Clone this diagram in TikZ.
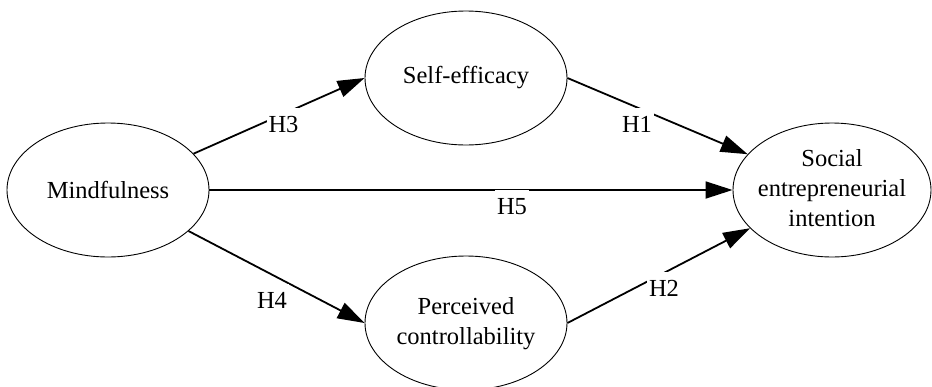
\documentclass[tikz,border=0pt]{standalone}
\usepackage{fontspec}
\setmainfont{Liberation Serif}
\usetikzlibrary{shapes.geometric,arrows.meta}
\begin{document}
\begin{tikzpicture}[x=1pt,y=-1pt,
  construct/.style={ellipse, draw, line width=0.9pt, minimum width=202pt, minimum height=134pt, inner sep=0pt, font=\fontsize{24.5}{30}\selectfont},
  pathline/.style={line width=1.8pt, -{Triangle[length=27pt,width=17pt]}},
  hlabel/.style={fill=white, inner sep=2pt, text height=22pt, text depth=5pt, anchor=base, font=\fontsize{24.5}{30}\selectfont}]
\useasboundingbox (0,0) rectangle (932,386);
\node[construct] (M) at (108,190) {\makebox[0pt]{Mindfulness}};
\node[construct] (S) at (466,78) {\makebox[0pt]{Self-efficacy}};
\node[construct] (P) at (466,323) {\makebox[0pt]{\begin{tabular}{@{}c@{}}Perceived\\controllability\end{tabular}}};
\node[construct, minimum width=198pt] (E) at (832,190) {\makebox[0pt]{\begin{tabular}{@{}c@{}}Social\\entrepreneurial\\intention\end{tabular}}};
\draw[pathline] (M.23.5) -- (S.180);
\draw[pathline] (S.0) -- (E.157);
\draw[pathline] (M.0) -- (E.180);
\draw[pathline] (P.0) -- (E.205);
\draw[pathline] (M.-27.7) -- (P.180);
\node[hlabel] (h3) at (283.5,132) {H3};
\node[hlabel] (h1) at (637,132) {H1};
\node[hlabel] (h5) at (512,214) {H5};
\node[hlabel] (h2) at (664,296) {H2};
\node[hlabel] (h4) at (272,308) {H4};
\end{tikzpicture}
\end{document}
